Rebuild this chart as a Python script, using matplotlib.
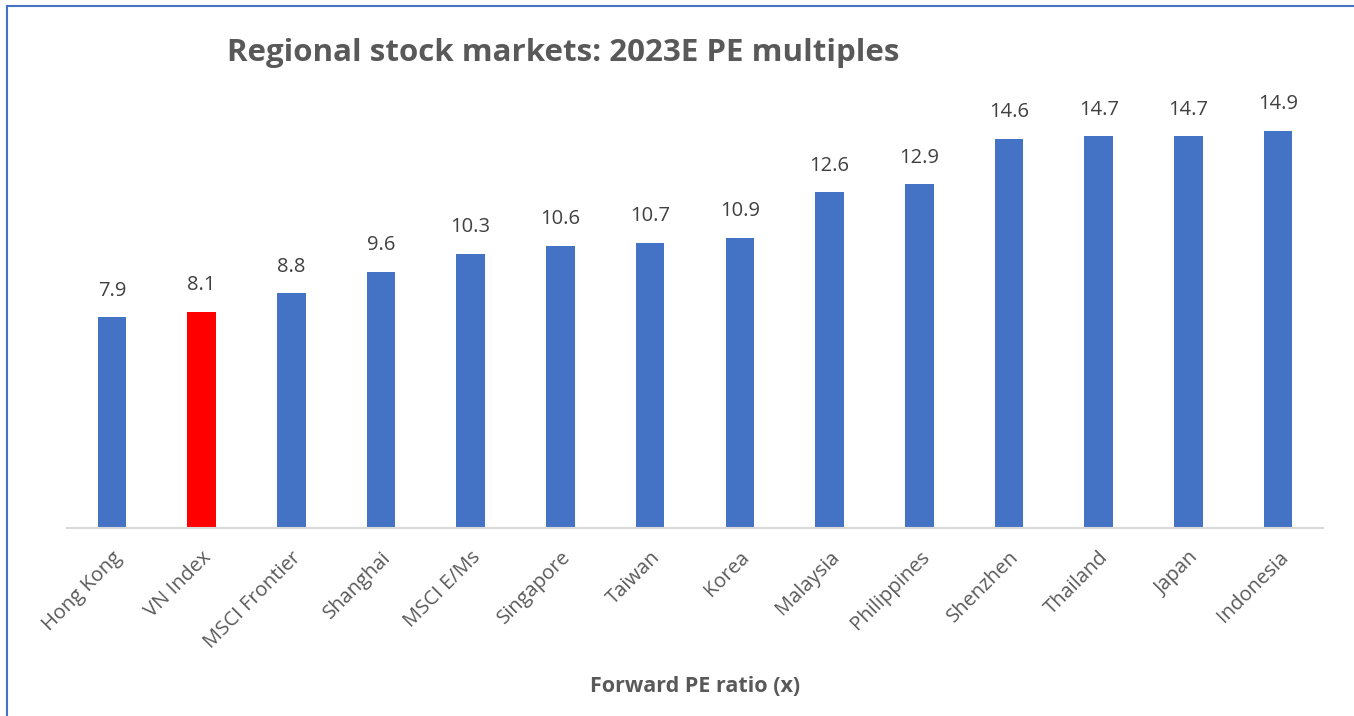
import matplotlib
matplotlib.use("Agg")
import matplotlib.pyplot as plt

categories = ["Hong Kong", "VN Index", "MSCI Frontier", "Shanghai", "MSCI E/Ms",
              "Singapore", "Taiwan", "Korea", "Malaysia", "Philippines",
              "Shenzhen", "Thailand", "Japan", "Indonesia"]
values = [7.9, 8.1, 8.8, 9.6, 10.3, 10.6, 10.7, 10.9, 12.6, 12.9, 14.6, 14.7, 14.7, 14.9]
highlight = "VN Index"

plt.rcParams['font.family'] = ['Open Sans', 'DejaVu Sans']

fig = plt.figure(figsize=(13.54, 7.16), dpi=100)
W, H = 1354, 716
ax = fig.add_axes([67 / W, 1 - 528 / H, (1323 - 67) / W, (528 - 100) / H])

colors = ["#FF0000" if c == highlight else "#4472C4" for c in categories]
x = list(range(len(categories)))
ax.bar(x, values, width=0.32, color=colors)
for xi, v in zip(x, values):
    ax.annotate(f"{v:.1f}", (xi, v), xytext=(0, 12), textcoords="offset points",
                ha="center", va="bottom", fontsize=14.5, color="#404040")

ax.set_xlim(-0.5, len(categories) - 0.5)
ax.set_ylim(0, 16.06)
ax.set_yticks([])
for s in ["left", "right", "top"]:
    ax.spines[s].set_visible(False)
ax.spines["bottom"].set_color("#D9D9D9")
ax.spines["bottom"].set_linewidth(1.5)
ax.tick_params(axis="x", length=0, pad=14)
ax.set_xticks(x)
ax.set_xticklabels(categories, rotation=45, ha="right", rotation_mode="anchor",
                   fontsize=14.5, color="#595959")

fig.text(563 / W, 1 - 53 / H, "Regional stock markets: 2023E PE multiples",
         ha="center", va="center", fontsize=22.5, fontweight="bold", color="#595959")
fig.text(695 / W, 1 - 686 / H, "Forward PE ratio (x)",
         ha="center", va="center", fontsize=15.5, fontweight="bold", color="#595959")

# outer border (left and top visible)
fig.add_artist(plt.Line2D([7 / W, 7 / W], [0, 1 - 6 / H], transform=fig.transFigure,
                          color="#4472C4", linewidth=1.5))
fig.add_artist(plt.Line2D([7 / W, 1], [1 - 6 / H, 1 - 6 / H], transform=fig.transFigure,
                          color="#4472C4", linewidth=1.5))

fig.savefig("out.png", dpi=100)
